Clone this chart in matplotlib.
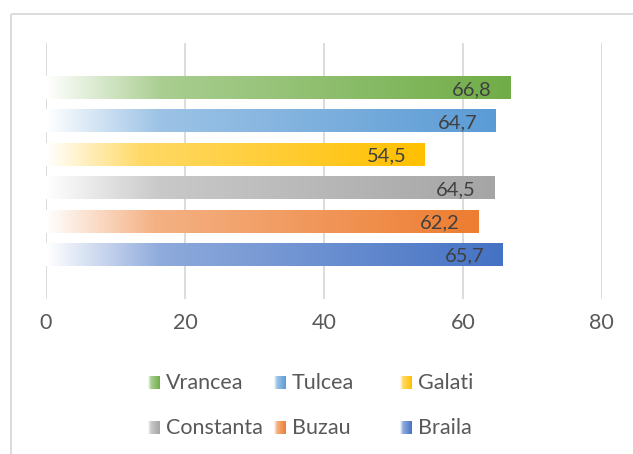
import matplotlib.pyplot as plt
import numpy as np
from matplotlib.colors import to_rgb
from matplotlib.patches import Rectangle

# chart data (top bar first)
regions = ["Vrancea", "Tulcea", "Galati", "Constanta", "Buzau", "Braila"]
values = [66.8, 64.7, 54.5, 64.5, 62.2, 65.7]
value_labels = ["66,8", "64,7", "54,5", "64,5", "62,2", "65,7"]
colors = ["#70AD47", "#5B9BD5", "#FFC000", "#A5A5A5", "#ED7D31", "#4472C4"]
x_ticks = [0, 20, 40, 60, 80]

FONT = "Lato"
GRID = "#d9d9d9"


def gradient(color, n=256):
    """white -> color, light at the start, full colour at the end"""
    t = np.linspace(0, 1, n)
    a = np.interp(t, [0, 0.25, 1], [0.0, 0.6, 1.0])
    c = np.array(to_rgb(color))
    rgb = (1 - a[:, None]) + a[:, None] * c
    return rgb[None, :, :]


fig = plt.figure(figsize=(6.33, 4.54), dpi=100)

# overlay in pixel coordinates for the frame and the legend
ov = fig.add_axes([0, 0, 1, 1], zorder=5)
ov.set_xlim(0, 633)
ov.set_ylim(454, 0)
ov.axis("off")
ov.patch.set_alpha(0)
ov.add_patch(Rectangle((11, 14), 640, 460, fill=False, edgecolor=GRID, linewidth=1.3))

ax = fig.add_axes([46 / 633, 1 - 299 / 454, (601.7 - 46) / 633, 256 / 454])
bar_h = 0.66
n = len(regions)
for i, (name, v, lab, col) in enumerate(zip(regions, values, value_labels, colors)):
    y = n - 1 - i
    ax.imshow(gradient(col), extent=(0, v, y - bar_h / 2, y + bar_h / 2),
              aspect="auto", interpolation="bilinear", zorder=2)
    ax.annotate(lab, (v, y), xytext=(-13, -1), textcoords="offset points",
                ha="right", va="center", fontsize=14.5, color="#404040",
                family=FONT, zorder=3)

ax.set_aspect("auto")
ax.set_xlim(0, 80)
ax.set_ylim(-1.32, n - 1 + 1.35)
ax.set_xticks(x_ticks)
ax.set_xticklabels([str(t) for t in x_ticks], family=FONT, fontsize=15.5, color="#595959")
ax.set_yticks([])
ax.tick_params(axis="x", length=0, pad=10)
ax.grid(axis="x", color=GRID, linewidth=1.3, zorder=1)
ax.set_axisbelow(True)
for s in ax.spines.values():
    s.set_visible(False)

# legend, Excel style grid of 3 columns
for i, (name, col) in enumerate(zip(regions, colors)):
    row, c = divmod(i, 3)
    x0 = 148 + c * 126
    y0 = 383 + row * 45
    ov.imshow(gradient(col), extent=(x0, x0 + 12, y0 + 6, y0 - 7),
              aspect="auto", interpolation="bilinear")
    ov.text(x0 + 18, y0, name, ha="left", va="center", fontsize=15.5,
            color="#595959", family=FONT)
ov.set_xlim(0, 633)
ov.set_ylim(454, 0)

fig.savefig("out.png", dpi=100)
